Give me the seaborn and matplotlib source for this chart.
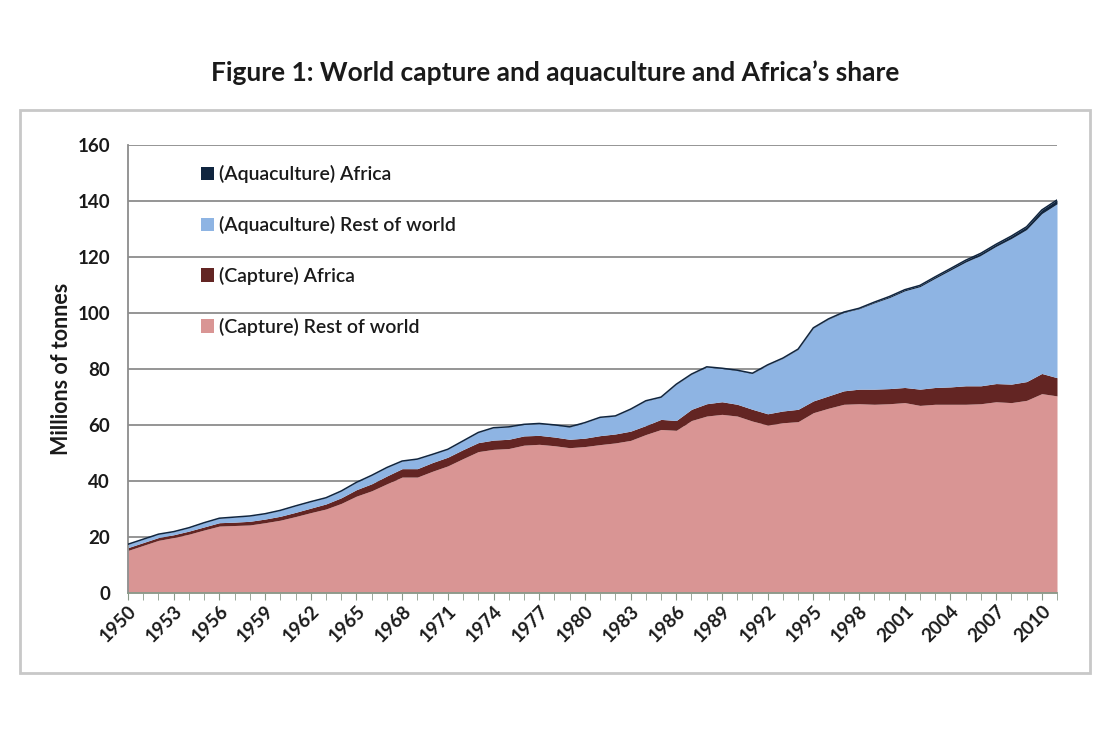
import numpy as np
import pandas as pd
import seaborn as sns
import matplotlib.pyplot as plt
from matplotlib.patches import Rectangle

# values, millions of tonnes
years = list(range(1950, 2012))

capture_row = [15.2, 17.0, 18.8, 19.8, 21.0, 22.5, 23.9, 24.1, 24.3, 25.1,
               26.0, 27.3, 28.7, 30.0, 32.0, 34.6, 36.5, 39.0, 41.4, 41.4,
               43.5, 45.4, 48.0, 50.5, 51.3, 51.6, 52.8, 53.1, 52.6, 51.9,
               52.3, 53.0, 53.6, 54.5, 56.6, 58.4, 58.1, 61.6, 63.2, 63.8,
               63.2, 61.4, 60.0, 60.8, 61.2, 64.4, 66.0, 67.4, 67.6, 67.4,
               67.6, 68.0, 67.0, 67.4, 67.4, 67.4, 67.6, 68.3, 68.0, 68.8,
               71.2, 70.4]

capture_africa = [1.0, 1.0, 1.0, 1.0, 1.1, 1.1, 1.2, 1.2, 1.3, 1.3,
                  1.4, 1.5, 1.6, 1.8, 2.0, 2.3, 2.5, 2.8, 3.0, 3.0,
                  3.1, 3.1, 3.2, 3.2, 3.3, 3.3, 3.3, 3.2, 3.1, 3.0,
                  3.0, 3.2, 3.2, 3.3, 3.2, 3.6, 3.5, 4.0, 4.4, 4.5,
                  4.2, 4.2, 4.0, 4.2, 4.4, 4.2, 4.4, 4.8, 5.2, 5.4,
                  5.4, 5.4, 5.8, 6.0, 6.2, 6.6, 6.4, 6.5, 6.6, 6.7,
                  7.2, 6.5]

aqua_row = [1.2, 1.2, 1.2, 1.1, 1.2, 1.5, 1.6, 1.8, 1.9, 1.9,
            2.1, 2.3, 2.3, 2.2, 2.4, 2.6, 3.0, 3.0, 2.7, 3.4,
            2.9, 2.8, 3.1, 3.6, 4.4, 4.4, 4.1, 4.2, 4.3, 4.4,
            5.5, 6.5, 6.4, 7.8, 8.8, 7.9, 12.9, 12.5, 13.1, 11.9,
            12.1, 12.8, 17.4, 18.8, 21.4, 26.0, 27.4, 28.0, 28.7, 30.8,
            32.5, 34.5, 36.6, 39.0, 41.7, 44.2, 46.6, 49.0, 52.0, 54.3,
            57.1, 62.1]

aqua_africa = [0.01, 0.01, 0.01, 0.01, 0.01, 0.01, 0.01, 0.01, 0.01, 0.01,
               0.01, 0.01, 0.02, 0.02, 0.02, 0.02, 0.02, 0.03, 0.03, 0.03,
               0.03, 0.03, 0.03, 0.04, 0.04, 0.04, 0.04, 0.05, 0.05, 0.05,
               0.05, 0.05, 0.05, 0.06, 0.06, 0.07, 0.07, 0.08, 0.08, 0.08,
               0.08, 0.09, 0.09, 0.10, 0.11, 0.11, 0.12, 0.13, 0.18, 0.28,
               0.40, 0.42, 0.46, 0.53, 0.56, 0.65, 0.74, 0.76, 0.88, 0.99,
               1.29, 1.37]

labels = ["(Capture) Rest of world", "(Capture) Africa",
          "(Aquaculture) Rest of world", "(Aquaculture) Africa"]
colors = ["#d99594", "#632523", "#8eb4e3", "#10253f"]

df = pd.DataFrame({"year": years, labels[0]: capture_row, labels[1]: capture_africa,
                   labels[2]: aqua_row, labels[3]: aqua_africa})
df["total"] = df[labels].sum(axis=1)

sns.set_style("white")
plt.rcParams["font.family"] = ["Lato", "DejaVu Sans"]

fig = plt.figure(figsize=(11.11, 7.38), dpi=100)
fig.patches.append(Rectangle((0.018, 0.088), 0.963, 0.763, transform=fig.transFigure,
                             fill=False, edgecolor="#c8c8c8", linewidth=2))
fig.text(0.5, 0.902, "Figure 1: World capture and aquaculture and Africa\u2019s share",
         ha="center", va="center", fontsize=19, fontweight="bold", color="#1a1a1a")

ax = fig.add_axes([0.1152, 0.1965, 0.8362, 0.607])
polys = ax.stackplot(df["year"], [df[l] for l in labels], colors=colors,
                     labels=labels, linewidth=0, zorder=2)
sns.lineplot(data=df, x="year", y="total", ax=ax, color=colors[3], linewidth=1.1, zorder=3)

ax.set_xlim(1950, 2011)
ax.set_ylim(0, 160)
ax.set_yticks(range(0, 161, 20))
ax.set_xticks(range(1950, 2011, 3))
ax.set_xticks(range(1950, 2012), minor=True)
ax.yaxis.grid(True, color="#8c8c8c", linewidth=1.3, zorder=1)
ax.set_axisbelow(True)
for s in ["top", "right"]:
    ax.spines[s].set_visible(False)
ax.spines["left"].set_color("#8c8c8c")
ax.spines["left"].set_linewidth(1.3)
ax.spines["bottom"].set_color("#8a9a8a")
ax.spines["bottom"].set_linewidth(1.3)
ax.spines["bottom"].set_zorder(4)

ax.tick_params(axis="y", which="major", length=5, color="#8c8c8c", labelsize=13.5, pad=8)
ax.tick_params(axis="x", which="both", length=5, color="#8a9a8a", direction="out", bottom=True)
ax.tick_params(axis="x", which="major", labelsize=13.5, pad=2)
for t in ax.get_yticklabels() + ax.get_xticklabels():
    t.set_fontweight("bold")
    t.set_color("#1a1a1a")
for t in ax.get_xticklabels():
    t.set_rotation(45)
    t.set_ha("right")
    t.set_rotation_mode("anchor")

ax.set_xlabel("")
ax.set_ylabel("Millions of tonnes", fontdict={"fontsize": 15.5, "fontweight": "bold"},
              labelpad=4, color="#1a1a1a")

handles = [h for h in polys][::-1]
leg = ax.legend(handles, labels[::-1], loc="upper left", bbox_to_anchor=(0.07, 0.972),
                frameon=False, fontsize=14, labelspacing=1.68, handlelength=0.7,
                handleheight=0.7, handletextpad=0.25, borderaxespad=0)
for t in leg.get_texts():
    t.set_fontweight("semibold")
    t.set_color("#1a1a1a")

fig.savefig("out.png", dpi=100)
